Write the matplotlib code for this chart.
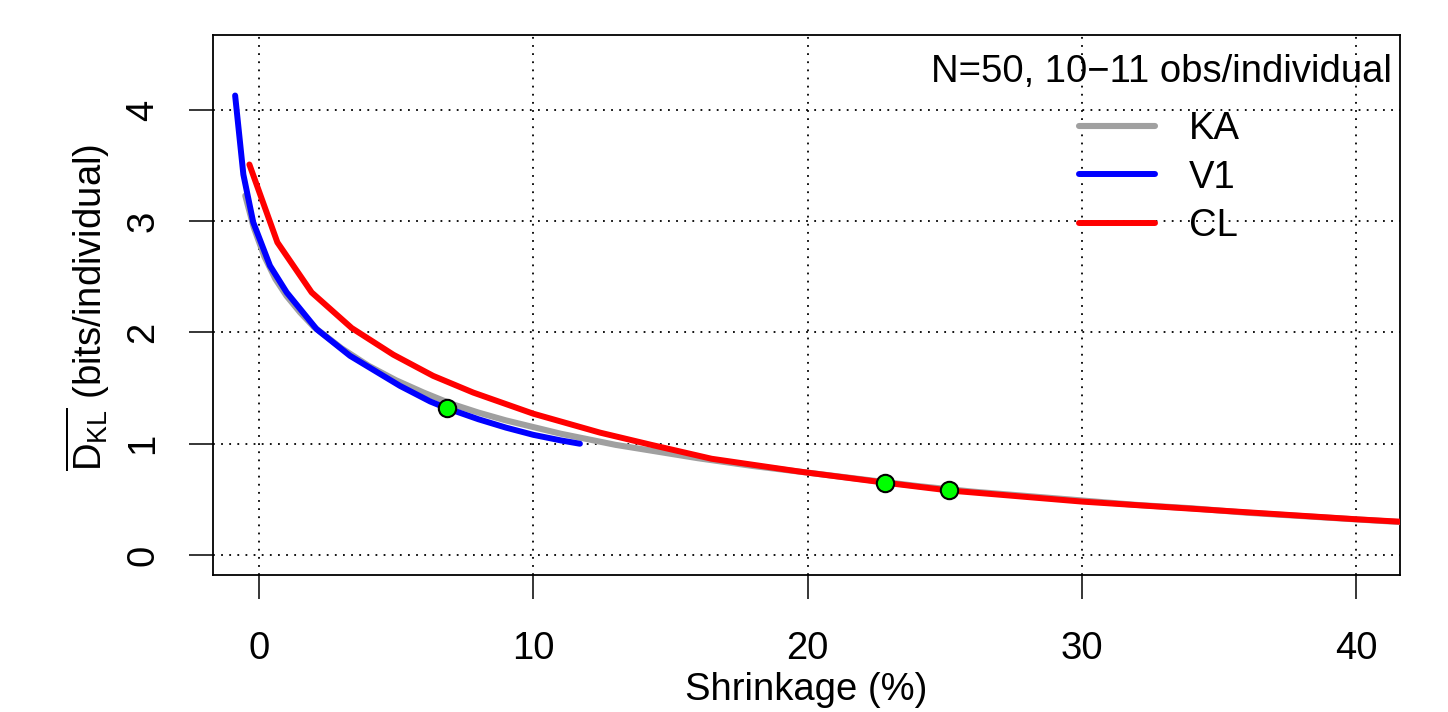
import matplotlib
matplotlib.use("Agg")
import matplotlib.pyplot as plt

plt.rcParams['font.family'] = ['Liberation Sans', 'DejaVu Sans']
plt.rcParams['mathtext.fontset'] = 'custom'
plt.rcParams['mathtext.rm'] = 'Liberation Sans'
plt.rcParams['mathtext.it'] = 'Liberation Sans:italic'

# ---- data ----
ka_x = [-0.5, -0.2, 0.2, 0.6, 1.0, 1.5, 2.0, 3.0, 4.0, 5.0, 6.0, 7.0, 8.0, 9.0,
        10.0, 11.0, 12.0, 13.0, 14.0, 15.0, 16.0, 18.0, 20.0, 22.0, 24.0, 26.0,
        28.0, 30.0, 32.0, 34.0, 36.0, 38.0, 40.0, 42.0]
ka_y = [3.23, 2.95, 2.68, 2.48, 2.33, 2.18, 2.05, 1.86, 1.70, 1.57, 1.46, 1.36,
        1.28, 1.21, 1.15, 1.09, 1.04, 0.99, 0.95, 0.91, 0.87, 0.80, 0.74, 0.68,
        0.62, 0.57, 0.53, 0.49, 0.45, 0.42, 0.38, 0.35, 0.32, 0.29]

v1_x = [-0.87, -0.57, -0.21, 0.40, 1.01, 2.10, 3.32, 5.14, 6.24, 6.84, 8.0,
        9.0, 10.0, 11.0, 11.70]
v1_y = [4.13, 3.42, 2.99, 2.60, 2.36, 2.03, 1.79, 1.52, 1.38, 1.32, 1.22,
        1.145, 1.08, 1.03, 1.00]

cl_x = [-0.35, 0.67, 1.92, 3.38, 4.90, 6.35, 7.81, 10.0, 12.43, 14.3, 16.5,
        19.7, 22.82, 25.15, 30.0, 35.0, 40.07, 43.0]
cl_y = [3.51, 2.81, 2.36, 2.04, 1.80, 1.61, 1.46, 1.27, 1.10, 0.99, 0.865,
        0.75, 0.65, 0.58, 0.48, 0.40, 0.32, 0.28]

pt_x = [6.85, 22.83, 25.15]
pt_y = [1.32, 0.65, 0.58]

x_ticks = [0, 10, 20, 30, 40]
y_ticks = [0, 1, 2, 3, 4]

labels = ["KA", "V1", "CL"]
title_text = "N=50, 10\u221211 obs/individual"

FS = 27.5

# ---- figure ----
fig = plt.figure(figsize=(14.48, 7.12), dpi=100)
ax = fig.add_axes([213/1448, 1-575/712, (1400-213)/1448, (575-35)/712])

ax.set_xlim(-1.677, 41.60)
ax.set_ylim(-0.18, 4.674)
ax.set_xticks(x_ticks)
ax.set_yticks(y_ticks)

ax.grid(True, color='black', linestyle=(0, (1, 3.5)), linewidth=1.3)
ax.set_axisbelow(True)

ax.plot(ka_x, ka_y, color='#A0A0A0', lw=4.4, solid_capstyle='round', label=labels[0], zorder=3)
ax.plot(v1_x, v1_y, color='#0000FF', lw=4.3, solid_capstyle='round', label=labels[1], zorder=4)
ax.plot(cl_x, cl_y, color='#FF0000', lw=4.3, solid_capstyle='round', label=labels[2], zorder=5)
ax.plot(pt_x, pt_y, linestyle='none', marker='o', markersize=12.5,
        markerfacecolor='#00FF00', markeredgecolor='black', markeredgewidth=1.5, zorder=6)

for s in ax.spines.values():
    s.set_linewidth(1.3)

ax.tick_params(axis='x', direction='out', length=17, width=1.1, labelsize=FS, pad=23)
ax.tick_params(axis='y', direction='out', length=17, width=1.1, labelsize=FS, pad=20)
for t in ax.get_yticklabels():
    t.set_rotation(90)
    t.set_va('center')

ax.set_xlabel("Shrinkage (%)", fontsize=FS)
ax.xaxis.set_label_coords(0.5, -0.18)
ax.xaxis.label.set_va('top')
ax.set_ylabel(r"$\overline{\mathrm{D}_{\mathrm{KL}}}$ (bits/individual)", fontsize=FS)
ax.yaxis.set_label_coords(-0.085, 0.495)

ax.text((1392-213)/1187, (575-82)/540, title_text, transform=ax.transAxes,
        ha='right', va='baseline', fontsize=FS)

leg = ax.legend(loc='upper left', bbox_to_anchor=((1079-213)/1187, (575-111)/540),
                frameon=False, fontsize=FS, handlelength=2.0, handletextpad=0.87,
                labelspacing=0.33, borderpad=0, borderaxespad=0)

fig.savefig("out.png", dpi=100)
